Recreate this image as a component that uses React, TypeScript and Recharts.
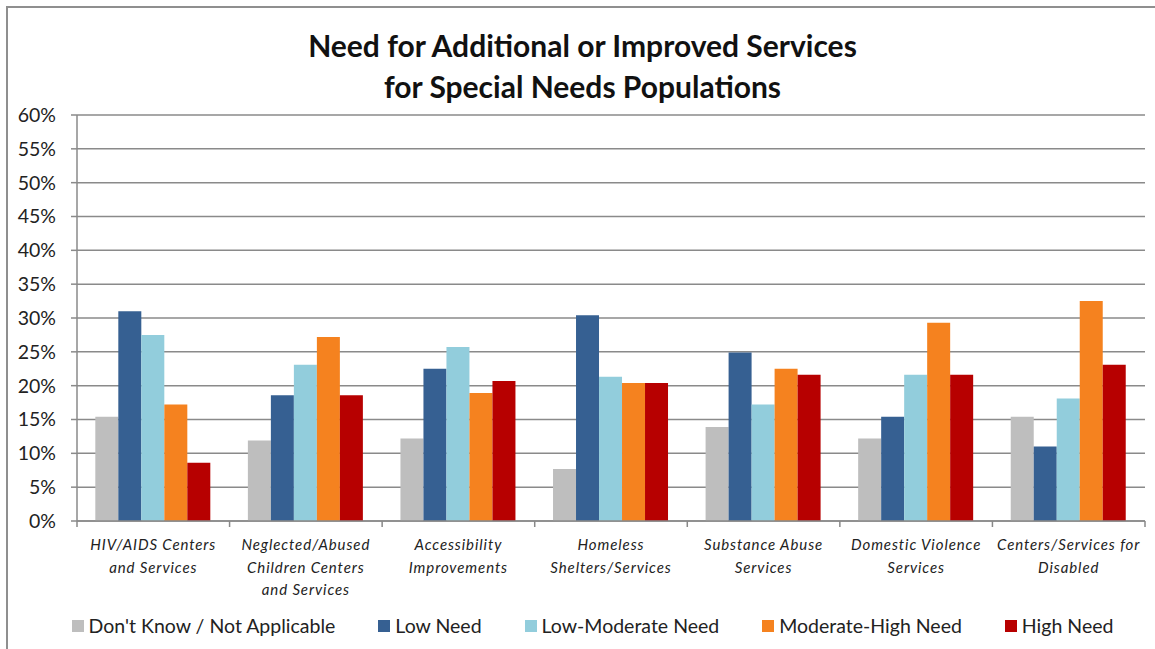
import { Bar, BarChart, CartesianGrid, XAxis, YAxis } from "recharts";

const categories = [
  "HIV/AIDS Centers\nand Services",
  "Neglected/Abused\nChildren Centers\nand Services",
  "Accessibility\nImprovements",
  "Homeless\nShelters/Services",
  "Substance Abuse\nServices",
  "Domestic Violence\nServices",
  "Centers/Services for\nDisabled",
];

const dontKnow = [15.4, 11.9, 12.2, 7.7, 13.9, 12.2, 15.4];
const lowNeed = [31.0, 18.6, 22.5, 30.4, 24.9, 15.4, 11.0];
const lowModerate = [27.5, 23.1, 25.7, 21.3, 17.2, 21.6, 18.1];
const moderateHigh = [17.2, 27.2, 18.9, 20.4, 22.5, 29.3, 32.5];
const highNeed = [8.6, 18.6, 20.7, 20.4, 21.6, 21.6, 23.1];

const yTicks = [0, 5, 10, 15, 20, 25, 30, 35, 40, 45, 50, 55, 60];

const series = [
  { key: "dontKnow", name: "Don't Know / Not Applicable", color: "#BEBEBE" },
  { key: "lowNeed", name: "Low Need", color: "#366092" },
  { key: "lowModerate", name: "Low-Moderate Need", color: "#92CDDC" },
  { key: "moderateHigh", name: "Moderate-High Need", color: "#F5821F" },
  { key: "highNeed", name: "High Need", color: "#B70000" },
];

const data = categories.map((name, i) => ({
  name,
  dontKnow: dontKnow[i],
  lowNeed: lowNeed[i],
  lowModerate: lowModerate[i],
  moderateHigh: moderateHigh[i],
  highNeed: highNeed[i],
}));

const W = 1155;
const H = 649;
const M = { top: 115, right: 10, left: 0, bottom: 48 };
const X_H = 80;
const Y_W = 77;
const FONT = "Lato, 'Open Sans', sans-serif";
const half = (W - M.left - M.right - Y_W) / categories.length / 2;

const CategoryTick = ({ x, y, payload, index }: any) => {
  const lines = String(payload.value).split("\n");
  return (
    <g>
      <line x1={x - half} x2={x - half} y1={y - 8} y2={y - 2} stroke="#888" strokeWidth={1.5} />
      {index === categories.length - 1 && (
        <line x1={x + half} x2={x + half} y1={y - 8} y2={y - 2} stroke="#888" strokeWidth={1.5} />
      )}
      <text
        x={x}
        y={y + 21}
        textAnchor="middle"
        fontStyle="italic"
        fontSize={15}
        letterSpacing={0.9}
        fill="#222"
        fontFamily={FONT}
      >
        {lines.map((l, i) => (
          <tspan key={i} x={x} dy={i === 0 ? 0 : 22.5}>
            {l}
          </tspan>
        ))}
      </text>
    </g>
  );
};

export default function App() {
  return (
    <div style={{ position: "fixed", left: 0, top: 0, width: W, height: H, overflow: "hidden", background: "#fff" }}>
      <div style={{ position: "absolute", left: 6, top: 6, width: 2, height: H, background: "#8f8f8f" }} />
      <div style={{ position: "absolute", left: 6, top: 6, width: W, height: 2, background: "#8f8f8f" }} />
      <div
        style={{
          position: "absolute",
          top: 25,
          left: 0,
          width: W,
          paddingLeft: 10,
          boxSizing: "border-box",
          textAlign: "center",
          fontFamily: FONT,
          fontWeight: 700,
          fontSize: 30,
          lineHeight: "41px",
          color: "#111",
        }}
      >
        Need for Additional or Improved Services
        <br />
        for Special Needs Populations
      </div>
      <div style={{ position: "absolute", left: 0, top: 0 }}>
        <BarChart width={W} height={H} data={data} margin={M} barCategoryGap="12%" barGap={0}>
          <CartesianGrid vertical={false} stroke="#8a8a8a" strokeWidth={1.5} />
          <XAxis
            dataKey="name"
            interval={0}
            tickLine={false}
            tick={<CategoryTick />}
            stroke="#8a8a8a"
            strokeWidth={1.5}
            height={X_H}
          />
          <YAxis
            width={Y_W}
            domain={[0, 60]}
            ticks={yTicks}
            interval={0}
            tickFormatter={(v: number) => `${v}%`}
            tick={{ fill: "#222", fontSize: 19.5, fontFamily: FONT }}
            tickSize={6}
            tickMargin={15}
            stroke="#8a8a8a"
            strokeWidth={1.5}
          />
          {series.map((s) => (
            <Bar key={s.key} dataKey={s.key} name={s.name} fill={s.color} isAnimationActive={false} />
          ))}
        </BarChart>
      </div>
      <div
        style={{
          position: "absolute",
          top: 614,
          left: 0,
          width: W,
          display: "flex",
          justifyContent: "center",
          gap: 43,
          paddingLeft: 30,
          boxSizing: "border-box",
          fontFamily: FONT,
          fontSize: 19.5,
          color: "#222",
        }}
      >
        {series.map((s) => (
          <div key={s.key} style={{ display: "flex", alignItems: "center", gap: 5 }}>
            <span style={{ width: 12, height: 12, background: s.color, display: "inline-block" }} />
            <span>{s.name}</span>
          </div>
        ))}
      </div>
    </div>
  );
}
